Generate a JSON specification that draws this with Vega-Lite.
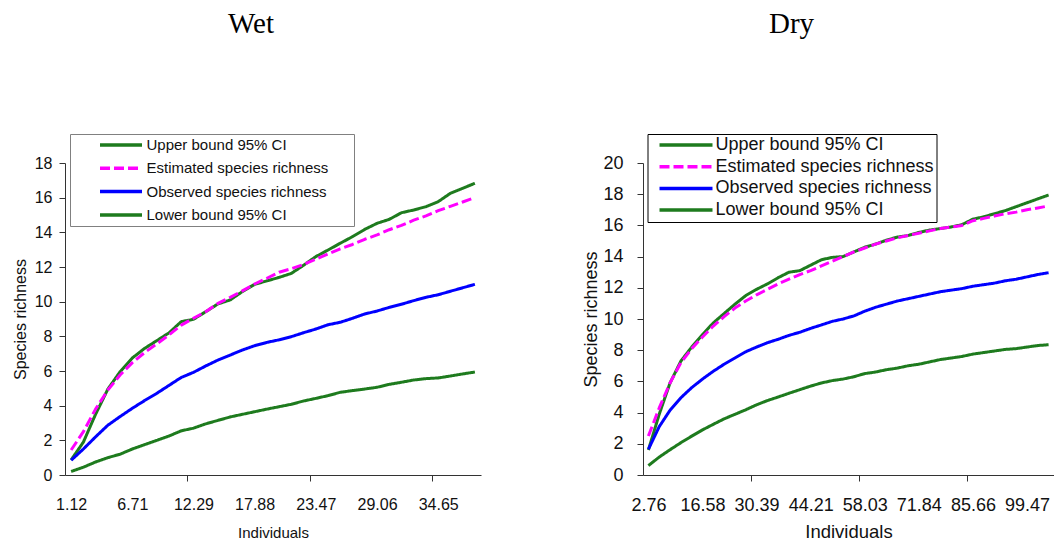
{
  "$schema": "https://vega.github.io/schema/vega-lite/v6.json",
  "background": "white",
  "padding": {"left": 12, "top": 9, "right": 0, "bottom": 0},
  "bounds": "flush",
  "spacing": 162,
  "resolve": {
    "scale": {"color": "independent", "strokeDash": "independent"},
    "legend": {"color": "independent", "strokeDash": "independent"}
  },
  "config": {
    "view": {"stroke": null},
    "font": "Liberation Sans",
    "axis": {
      "grid": false,
      "domainColor": "#333333",
      "tickColor": "#333333",
      "labelColor": "#111111",
      "titleColor": "#111111",
      "titleFontWeight": "normal",
      "labelFont": "Liberation Sans",
      "titleFont": "Liberation Sans"
    }
  },
  "datasets": {
    "wet": [
      {"x": 1.12, "upper": 0.87, "estimated": 1.44, "observed": 0.85, "lower": 0.2},
      {"x": 2.24, "upper": 1.9, "estimated": 2.5, "observed": 1.5, "lower": 0.45},
      {"x": 3.35, "upper": 3.5, "estimated": 3.8, "observed": 2.2, "lower": 0.75},
      {"x": 4.47, "upper": 4.95, "estimated": 4.9, "observed": 2.87, "lower": 1.0},
      {"x": 5.59, "upper": 5.96, "estimated": 5.77, "observed": 3.37, "lower": 1.2},
      {"x": 6.71, "upper": 6.75, "estimated": 6.48, "observed": 3.85, "lower": 1.5},
      {"x": 7.82, "upper": 7.3, "estimated": 7.06, "observed": 4.29, "lower": 1.75},
      {"x": 8.94, "upper": 7.75, "estimated": 7.56, "observed": 4.71, "lower": 2.0},
      {"x": 10.06, "upper": 8.2, "estimated": 8.08, "observed": 5.17, "lower": 2.25},
      {"x": 11.18, "upper": 8.85, "estimated": 8.65, "observed": 5.63, "lower": 2.55},
      {"x": 12.29, "upper": 8.98, "estimated": 9.04, "observed": 5.92, "lower": 2.7},
      {"x": 13.41, "upper": 9.42, "estimated": 9.42, "observed": 6.29, "lower": 2.95},
      {"x": 14.53, "upper": 9.87, "estimated": 9.9, "observed": 6.63, "lower": 3.15},
      {"x": 15.65, "upper": 10.1, "estimated": 10.25, "observed": 6.92, "lower": 3.35},
      {"x": 16.76, "upper": 10.58, "estimated": 10.62, "observed": 7.21, "lower": 3.5},
      {"x": 17.88, "upper": 11.0, "estimated": 11.02, "observed": 7.46, "lower": 3.65},
      {"x": 19.0, "upper": 11.2, "estimated": 11.35, "observed": 7.65, "lower": 3.8},
      {"x": 20.12, "upper": 11.4, "estimated": 11.7, "observed": 7.8, "lower": 3.94},
      {"x": 21.23, "upper": 11.63, "estimated": 11.9, "observed": 7.98, "lower": 4.08},
      {"x": 22.35, "upper": 12.1, "estimated": 12.15, "observed": 8.21, "lower": 4.27},
      {"x": 23.47, "upper": 12.6, "estimated": 12.45, "observed": 8.42, "lower": 4.42},
      {"x": 24.59, "upper": 12.98, "estimated": 12.75, "observed": 8.67, "lower": 4.58},
      {"x": 25.7, "upper": 13.37, "estimated": 13.05, "observed": 8.81, "lower": 4.77},
      {"x": 26.82, "upper": 13.75, "estimated": 13.3, "observed": 9.04, "lower": 4.87},
      {"x": 27.94, "upper": 14.17, "estimated": 13.6, "observed": 9.29, "lower": 4.96},
      {"x": 29.06, "upper": 14.52, "estimated": 13.85, "observed": 9.46, "lower": 5.06},
      {"x": 30.18, "upper": 14.75, "estimated": 14.15, "observed": 9.67, "lower": 5.23},
      {"x": 31.29, "upper": 15.13, "estimated": 14.4, "observed": 9.85, "lower": 5.35},
      {"x": 32.41, "upper": 15.29, "estimated": 14.7, "observed": 10.06, "lower": 5.48},
      {"x": 33.53, "upper": 15.48, "estimated": 14.95, "observed": 10.25, "lower": 5.56},
      {"x": 34.65, "upper": 15.77, "estimated": 15.25, "observed": 10.4, "lower": 5.6},
      {"x": 35.76, "upper": 16.25, "estimated": 15.5, "observed": 10.6, "lower": 5.71},
      {"x": 36.88, "upper": 16.54, "estimated": 15.75, "observed": 10.8, "lower": 5.83},
      {"x": 38.0, "upper": 16.83, "estimated": 16.0, "observed": 11.0, "lower": 5.94}
    ],
    "dry": [
      {"x": 2.76, "upper": 1.6, "estimated": 2.5, "observed": 1.65, "lower": 0.6},
      {"x": 5.53, "upper": 3.9, "estimated": 4.3, "observed": 3.1, "lower": 1.15},
      {"x": 8.29, "upper": 5.9, "estimated": 5.9, "observed": 4.15, "lower": 1.62},
      {"x": 11.05, "upper": 7.3, "estimated": 7.2, "observed": 4.95, "lower": 2.07},
      {"x": 13.82, "upper": 8.2, "estimated": 8.1, "observed": 5.6, "lower": 2.49},
      {"x": 16.58, "upper": 9.0, "estimated": 8.85, "observed": 6.15, "lower": 2.89},
      {"x": 19.34, "upper": 9.75, "estimated": 9.55, "observed": 6.65, "lower": 3.25},
      {"x": 22.11, "upper": 10.35, "estimated": 10.15, "observed": 7.1, "lower": 3.6},
      {"x": 24.87, "upper": 10.95, "estimated": 10.7, "observed": 7.5, "lower": 3.89},
      {"x": 27.63, "upper": 11.5, "estimated": 11.15, "observed": 7.9, "lower": 4.18},
      {"x": 30.39, "upper": 11.9, "estimated": 11.55, "observed": 8.2, "lower": 4.5},
      {"x": 33.16, "upper": 12.25, "estimated": 11.9, "observed": 8.48, "lower": 4.77},
      {"x": 35.92, "upper": 12.65, "estimated": 12.25, "observed": 8.7, "lower": 5.0},
      {"x": 38.68, "upper": 13.0, "estimated": 12.55, "observed": 8.95, "lower": 5.24},
      {"x": 41.45, "upper": 13.1, "estimated": 12.85, "observed": 9.15, "lower": 5.47},
      {"x": 44.21, "upper": 13.45, "estimated": 13.1, "observed": 9.4, "lower": 5.7},
      {"x": 46.97, "upper": 13.8, "estimated": 13.4, "observed": 9.62, "lower": 5.9},
      {"x": 49.74, "upper": 13.95, "estimated": 13.7, "observed": 9.85, "lower": 6.05},
      {"x": 52.5, "upper": 14.0, "estimated": 14.0, "observed": 10.0, "lower": 6.15},
      {"x": 55.26, "upper": 14.3, "estimated": 14.3, "observed": 10.2, "lower": 6.3},
      {"x": 58.03, "upper": 14.6, "estimated": 14.55, "observed": 10.5, "lower": 6.5},
      {"x": 60.79, "upper": 14.8, "estimated": 14.8, "observed": 10.75, "lower": 6.6},
      {"x": 63.55, "upper": 15.05, "estimated": 15.0, "observed": 10.95, "lower": 6.75},
      {"x": 66.32, "upper": 15.25, "estimated": 15.2, "observed": 11.15, "lower": 6.85},
      {"x": 69.08, "upper": 15.35, "estimated": 15.35, "observed": 11.3, "lower": 7.0},
      {"x": 71.84, "upper": 15.55, "estimated": 15.5, "observed": 11.45, "lower": 7.1},
      {"x": 74.6, "upper": 15.7, "estimated": 15.65, "observed": 11.6, "lower": 7.25},
      {"x": 77.37, "upper": 15.8, "estimated": 15.8, "observed": 11.75, "lower": 7.4},
      {"x": 80.13, "upper": 15.9, "estimated": 15.9, "observed": 11.85, "lower": 7.5},
      {"x": 82.89, "upper": 16.05, "estimated": 16.0, "observed": 11.95, "lower": 7.6},
      {"x": 85.66, "upper": 16.4, "estimated": 16.3, "observed": 12.1, "lower": 7.75},
      {"x": 88.42, "upper": 16.55, "estimated": 16.45, "observed": 12.2, "lower": 7.85},
      {"x": 91.18, "upper": 16.75, "estimated": 16.6, "observed": 12.3, "lower": 7.95},
      {"x": 93.95, "upper": 16.95, "estimated": 16.75, "observed": 12.45, "lower": 8.05},
      {"x": 96.71, "upper": 17.2, "estimated": 16.85, "observed": 12.55, "lower": 8.1},
      {"x": 99.47, "upper": 17.45, "estimated": 17.0, "observed": 12.7, "lower": 8.2},
      {"x": 102.24, "upper": 17.7, "estimated": 17.12, "observed": 12.85, "lower": 8.3},
      {"x": 105.0, "upper": 17.95, "estimated": 17.25, "observed": 12.97, "lower": 8.35}
    ]
  },
  "hconcat": [
    {
      "title": {"text": "Wet", "font": "Liberation Serif", "fontSize": 29, "fontWeight": "normal", "color": "black", "anchor": "middle", "frame": "group", "baseline": "alphabetic", "offset": 72, "dx": -22},
      "data": {"name": "wet"},
      "width": 416,
      "height": 312,
      "transform": [{"fold": ["upper", "estimated", "observed", "lower"], "as": ["series", "richness"]}],
      "mark": {"type": "line", "strokeWidth": 3, "strokeJoin": "round"},
      "encoding": {
        "x": {
          "field": "x",
          "type": "quantitative",
          "scale": {"domain": [0.5588, 38.5572], "nice": false, "zero": false},
          "axis": {
            "title": "Individuals",
            "titleFontSize": 15,
            "titlePadding": 13,
            "values": [1.12, 6.71, 11.7348, 12.29, 17.88, 22.9108, 23.47, 29.06, 34.0868, 34.65],
            "labelExpr": "indexof([11.7348, 22.9108, 34.0868], datum.value) >= 0 ? '' : format(datum.value, '.2f')",
            "labelFontSize": 16,
            "labelFlush": false,
            "labelOverlap": false,
            "labelPadding": 15,
            "tickSize": 6,
            "tickOpacity": {"condition": {"test": "indexof([11.7348, 22.9108, 34.0868], datum.value) >= 0", "value": 1}, "value": 0}
          }
        },
        "y": {
          "field": "richness",
          "type": "quantitative",
          "scale": {"domain": [0, 18], "nice": false},
          "axis": {
            "title": "Species richness",
            "titleFontSize": 16,
            "titlePadding": 6,
            "values": [0, 2, 4, 6, 8, 10, 12, 14, 16, 18],
            "labelFontSize": 16,
            "labelPadding": 7,
            "tickSize": 6
          }
        },
        "color": {
          "field": "series",
          "type": "nominal",
          "scale": {"domain": ["upper", "estimated", "observed", "lower"], "range": ["#1e7b1e", "#ff00ff", "#0000ff", "#1e7b1e"]},
          "legend": {
            "orient": "none", "legendX": 5, "legendY": -29, "direction": "vertical",
            "title": "\u00a0", "titleOrient": "right", "titlePadding": 23, "titleFontSize": 15,
            "symbolType": "stroke", "symbolSize": 1764, "symbolStrokeWidth": 3.5, "symbolOffset": 25, "labelOffset": 2.5,
            "labelFont": "Liberation Sans", "labelFontSize": 15, "labelColor": "#111111", "labelLimit": 400,
            "clipHeight": 16, "rowPadding": 7.3, "padding": 3, "strokeColor": "#808080", "fillColor": "white",
            "labelExpr": "datum.value == 'upper' ? 'Upper bound 95% CI' : datum.value == 'estimated' ? 'Estimated species richness' : datum.value == 'observed' ? 'Observed species richness' : 'Lower bound 95% CI'"
          }
        },
        "strokeDash": {
          "field": "series",
          "type": "nominal",
          "scale": {"domain": ["upper", "estimated", "observed", "lower"], "range": [[1, 0], [10, 4], [1, 0], [1, 0]]},
          "legend": {
            "orient": "none", "legendX": 5, "legendY": -29, "direction": "vertical",
            "title": "\u00a0", "titleOrient": "right", "titlePadding": 23, "titleFontSize": 15,
            "symbolType": "stroke", "symbolSize": 1764, "symbolStrokeWidth": 3.5, "symbolOffset": 25, "labelOffset": 2.5,
            "labelFont": "Liberation Sans", "labelFontSize": 15, "labelColor": "#111111", "labelLimit": 400,
            "clipHeight": 16, "rowPadding": 7.3, "padding": 3, "strokeColor": "#808080", "fillColor": "white",
            "labelExpr": "datum.value == 'upper' ? 'Upper bound 95% CI' : datum.value == 'estimated' ? 'Estimated species richness' : datum.value == 'observed' ? 'Observed species richness' : 'Lower bound 95% CI'"
          }
        }
      }
    },
    {
      "title": {"text": "Dry", "font": "Liberation Serif", "fontSize": 29, "fontWeight": "normal", "color": "black", "anchor": "middle", "frame": "group", "baseline": "alphabetic", "offset": 72, "dx": -57},
      "data": {"name": "dry"},
      "width": 411,
      "height": 312,
      "transform": [{"fold": ["upper", "estimated", "observed", "lower"], "as": ["series", "richness"]}],
      "mark": {"type": "line", "strokeWidth": 3, "strokeJoin": "round"},
      "encoding": {
        "x": {
          "field": "x",
          "type": "quantitative",
          "scale": {"domain": [1.3816, 106.381], "nice": false, "zero": false},
          "axis": {
            "title": "Individuals",
            "titleFontSize": 18.5,
            "titlePadding": 8,
            "values": [2.76, 16.58, 29.013, 30.39, 44.21, 56.644, 58.03, 71.84, 84.276, 85.66, 99.47],
            "labelExpr": "indexof([29.013, 56.644, 84.276], datum.value) >= 0 ? '' : format(datum.value, '.2f')",
            "labelFontSize": 18,
            "labelFlush": false,
            "labelOverlap": false,
            "labelPadding": 15,
            "tickSize": 6,
            "tickOpacity": {"condition": {"test": "indexof([29.013, 56.644, 84.276], datum.value) >= 0", "value": 1}, "value": 0}
          }
        },
        "y": {
          "field": "richness",
          "type": "quantitative",
          "scale": {"domain": [0, 20], "nice": false},
          "axis": {
            "title": "Species richness",
            "titleFontSize": 18,
            "titlePadding": 2,
            "values": [0, 2, 4, 6, 8, 10, 12, 14, 16, 18, 20],
            "labelFontSize": 18,
            "labelPadding": 14,
            "tickSize": 6
          }
        },
        "color": {
          "field": "series",
          "type": "nominal",
          "scale": {"domain": ["upper", "estimated", "observed", "lower"], "range": ["#1e7b1e", "#ff00ff", "#0000ff", "#1e7b1e"]},
          "legend": {
            "orient": "none", "legendX": 4.5, "legendY": -29, "title": null, "direction": "vertical",
            "symbolType": "stroke", "symbolSize": 2809, "symbolStrokeWidth": 3.5, "symbolOffset": 8, "labelOffset": 1,
            "labelFont": "Liberation Sans", "labelFontSize": 18, "labelColor": "#111111", "labelLimit": 400,
            "clipHeight": 18, "rowPadding": 3.7, "padding": 2, "strokeColor": "black", "fillColor": "white",
            "labelExpr": "datum.value == 'upper' ? 'Upper bound 95% CI' : datum.value == 'estimated' ? 'Estimated species richness' : datum.value == 'observed' ? 'Observed species richness' : 'Lower bound 95% CI'"
          }
        },
        "strokeDash": {
          "field": "series",
          "type": "nominal",
          "scale": {"domain": ["upper", "estimated", "observed", "lower"], "range": [[1, 0], [10, 4], [1, 0], [1, 0]]},
          "legend": {
            "orient": "none", "legendX": 4.5, "legendY": -29, "title": null, "direction": "vertical",
            "symbolType": "stroke", "symbolSize": 2809, "symbolStrokeWidth": 3.5, "symbolOffset": 8, "labelOffset": 1,
            "labelFont": "Liberation Sans", "labelFontSize": 18, "labelColor": "#111111", "labelLimit": 400,
            "clipHeight": 18, "rowPadding": 3.7, "padding": 2, "strokeColor": "black", "fillColor": "white",
            "labelExpr": "datum.value == 'upper' ? 'Upper bound 95% CI' : datum.value == 'estimated' ? 'Estimated species richness' : datum.value == 'observed' ? 'Observed species richness' : 'Lower bound 95% CI'"
          }
        }
      }
    }
  ]
}
